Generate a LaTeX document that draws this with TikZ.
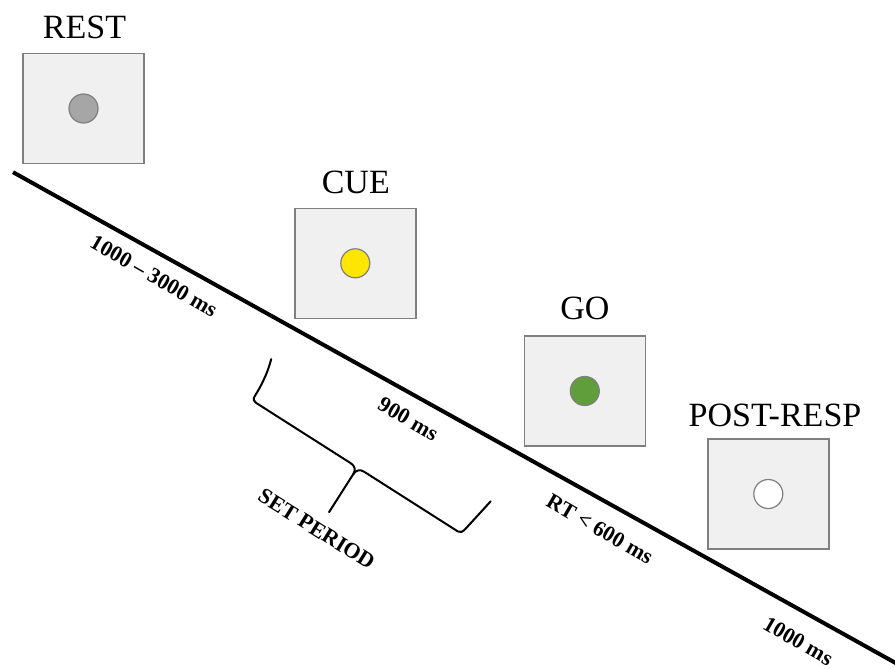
\documentclass[tikz,border=0pt]{standalone}
\usepackage{fontspec}
\setmainfont{Liberation Serif}
\definecolor{screenfill}{HTML}{F0F0F0}
\definecolor{framegray}{HTML}{7F7F7F}
\definecolor{restdot}{HTML}{A6A6A6}
\definecolor{cuedot}{HTML}{FFE600}
\definecolor{godot}{HTML}{5F9E3B}
\tikzset{
  screen/.style={draw=framegray, line width=1.5pt, fill=screenfill,
    minimum width=121pt, minimum height=110pt, inner sep=0pt},
  dot/.style={circle, draw=framegray, line width=1.2pt, minimum size=29pt, inner sep=0pt},
  phasetitle/.style={anchor=base, inner sep=0pt, font=\fontsize{34}{40}\selectfont},
  dur/.style={inner sep=0pt, rotate=-30, font=\bfseries\fontsize{22}{26}\selectfont},
  timeline/.style={line width=4pt},
  bracepath/.style={line width=2pt, line join=round, line cap=round}
}
\begin{document}
\begin{tikzpicture}[x=1pt, y=-1pt]
  \useasboundingbox (0,0) rectangle (895,669);

  % time axis
  \coordinate (tstart) at (13,172.2);
  \coordinate (tend) at (905,668.2);
  \draw[timeline] (tstart) -- (tend);

  % screens with fixation dots
  \node[screen] (rest) at (83.5,108.5) {};
  \node[dot, fill=restdot] (restdot) at (rest.center) {};
  \node[phasetitle] (resttitle) at (84.5,38.3) {REST};

  \node[screen] (cue) at (355.3,263.3) {};
  \node[dot, fill=cuedot] (cuedot) at (cue.center) {};
  \node[phasetitle] (cuetitle) at (355.8,193.3) {CUE};

  \node[screen] (go) at (584.8,391) {};
  \node[dot, fill=godot] (godot) at (go.center) {};
  \node[phasetitle] (gotitle) at (585,319.3) {GO};

  \node[screen] (post) at (768.3,494) {};
  \node[dot, fill=white] (postdot) at (post.center) {};
  \node[phasetitle] (posttitle) at (775,426) {POST-RESP};

  % durations along the axis
  \node[dur] (d1) at (154,276) {1000 -- 3000 ms};
  \node[dur] (d2) at (408.3,419) {900 ms};
  \node[dur] (d3) at (600,529) {RT < 600 ms};
  \node[dur] (d4) at (798.3,641) {1000 ms};

  % brace marking the set period
  \begin{scope}[shift={(357.5,467.5)}, rotate=-32.5]
    \draw[bracepath] (-131,-45) .. controls (-126,-30) and (-125,-14) .. (-125,-5)
      .. controls (-125,-1) and (-123,0) .. (-120,0) -- (-8,0)
      .. controls (-3,0) and (0,3) .. (0,8) -- (0,53);
    \draw[bracepath] (0,8) .. controls (0,3) and (3,0) .. (8,0) -- (119,0)
      .. controls (122,0) and (123,-2) .. (124,-6) -- (130.5,-43);
  \end{scope}
  \node[dur, rotate=-2] (setp) at (316.7,529) {SET PERIOD};
\end{tikzpicture}
\end{document}
